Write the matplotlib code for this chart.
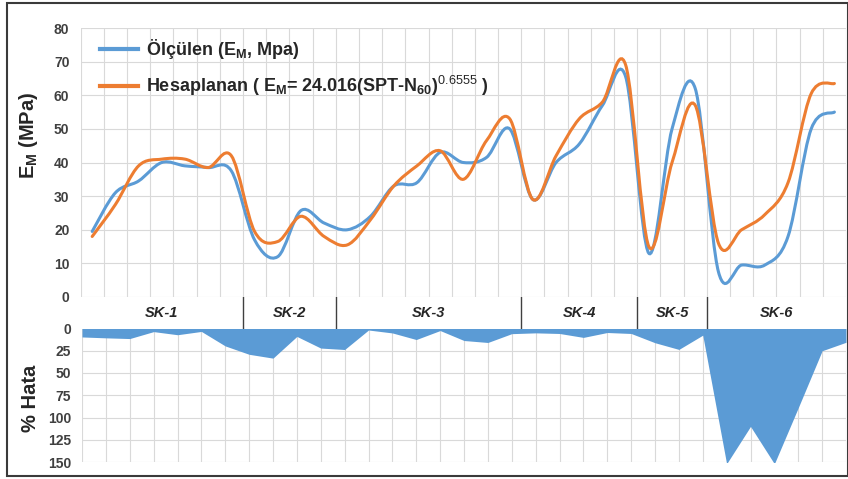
import matplotlib.pyplot as plt
import numpy as np
import matplotlib.patches as patches
from matplotlib.path import Path
from matplotlib.lines import Line2D

plt.rcParams['font.family'] = ['Liberation Sans', 'DejaVu Sans']
plt.rcParams['mathtext.fontset'] = 'custom'
plt.rcParams['mathtext.rm'] = 'Liberation Sans'
plt.rcParams['mathtext.bf'] = 'Liberation Sans:bold'

# Ölçülen ve hesaplanan EM değerleri (MPa)
olculen = [19.5, 31, 34.5, 40, 39, 38.5, 37.5, 17, 12, 25.7, 22, 20, 24, 33, 34, 43,
           40, 41.5, 50, 29, 40, 45.5, 57, 65.5, 13, 50, 62, 7.5, 9.5, 9.5, 18, 50, 55]
hesaplanan = [18, 27.5, 39, 41, 41, 38.5, 42, 19.5, 16.5, 24, 18, 15.5, 23, 33, 39, 43.5,
              35, 46.5, 53, 29, 42, 53, 58, 69, 15, 40, 57, 16, 20, 24.5, 34, 60.5, 63.5]

# % hata
hata = [9.5, 10.5, 11.3, 3.5, 7, 3.3, 19.6, 29, 33.3, 8.9, 22, 23.6, 1.7, 5, 12.4, 2.3,
        13.5, 15.7, 5.8, 4.9, 5.6, 10, 4.5, 5.6, 16, 23.5, 7.5, 152, 110, 152, 89, 25, 15.5]

# Sondaj grupları
gruplar = ['SK-1', 'SK-2', 'SK-3', 'SK-4', 'SK-5', 'SK-6']
grup_sayilari = [7, 4, 8, 5, 3, 6]

mavi = '#5B9BD5'
turuncu = '#ED7D31'
grid_renk = '#D9D9D9'
yazi_renk = '#404040'


def yumusak_egri(x, y):
    # Excel'deki "yumuşatılmış çizgi" gibi: Catmull-Rom -> Bezier
    pts = np.column_stack([x, y]).astype(float)
    n = len(pts)
    verts = [pts[0]]
    codes = [Path.MOVETO]
    for i in range(n - 1):
        p0 = pts[max(i - 1, 0)]
        p1 = pts[i]
        p2 = pts[i + 1]
        p3 = pts[min(i + 2, n - 1)]
        verts += [p1 + (p2 - p0) / 6, p2 - (p3 - p1) / 6, p2]
        codes += [Path.CURVE4] * 3
    return Path(verts, codes)


W, H = 848, 479
fig = plt.figure(figsize=(W / 100, H / 100), dpi=100)

# Üst grafik
ax = fig.add_axes([80.6 / W, 1 - 297 / H, (846 - 80.6) / W, (297 - 28) / H])
x = np.arange(len(olculen))
ax.set_xlim(-0.5, len(olculen) - 0.5)
ax.set_ylim(0, 80)
ax.set_yticks(np.arange(0, 81, 10))
ax.set_xticks(np.arange(-0.5, len(olculen), 1))
ax.set_xticklabels([])
ax.grid(True, color=grid_renk, lw=0.8)
ax.set_axisbelow(True)
for s in ax.spines.values():
    s.set_visible(False)
ax.tick_params(length=0, pad=8, labelsize=10, labelcolor=yazi_renk)
for t in ax.get_yticklabels():
    t.set_fontweight('bold')

ax.add_patch(patches.PathPatch(yumusak_egri(x, olculen), facecolor='none',
                               edgecolor=mavi, lw=2.2, capstyle='round'))
ax.add_patch(patches.PathPatch(yumusak_egri(x, hesaplanan), facecolor='none',
                               edgecolor=turuncu, lw=2.2, capstyle='round'))

ax.set_ylabel(r'E$_\mathbf{M}$ (MPa)', fontsize=14.5, fontweight='bold', color='#262626')
ax.yaxis.set_label_coords(-0.053, 0.60)

handles = [Line2D([], [], color=mavi, lw=3), Line2D([], [], color=turuncu, lw=3)]
labels = [r'Ölçülen (E$_\mathbf{M}$, Mpa)',
          r'Hesaplanan ( E$_\mathbf{M}$= 24.016(SPT-N$_\mathbf{60}$)$^{\mathrm{0.6555}}$ )']
leg = ax.legend(handles, labels, loc='upper left', bbox_to_anchor=(0.025, 0.965),
                frameon=False, borderpad=0, borderaxespad=0, handlelength=2.1,
                handletextpad=0.45, labelspacing=0.7,
                prop={'weight': 'bold', 'size': 13})
for t in leg.get_texts():
    t.set_color('#262626')

# Grup etiketleri satırı
axg = fig.add_axes([80.6 / W, 1 - 328.5 / H, (846 - 80.6) / W, (328.5 - 297) / H])
axg.set_xlim(-0.5, len(olculen) - 0.5)
axg.set_ylim(0, 1)
axg.axis('off')
baslangic = 0
for ad, n in zip(gruplar, grup_sayilari):
    axg.text(baslangic + (n - 1) / 2, 0.5, ad, ha='center', va='center',
             fontsize=10.5, fontweight='bold', fontstyle='italic', color='#262626')
    baslangic += n
    if baslangic < len(olculen):
        axg.plot([baslangic - 0.5] * 2, [0, 1], color='#404040', lw=1)

# Alt grafik (% hata)
ax2 = fig.add_axes([82 / W, 1 - 462 / H, (846 - 82) / W, (462 - 328.5) / H])
x2 = np.arange(len(hata))
ax2.fill_between(x2, 0, hata, color=mavi, lw=0)
ax2.set_xlim(0, len(hata) - 1)
ax2.set_ylim(150, 0)
ax2.set_yticks(np.arange(0, 151, 25))
ax2.set_xticks(x2)
ax2.set_xticklabels([])
ax2.grid(True, color=grid_renk, lw=0.8)
ax2.set_axisbelow(True)
for s in ax2.spines.values():
    s.set_visible(False)
ax2.tick_params(length=0, pad=8, labelsize=10, labelcolor=yazi_renk)
for t in ax2.get_yticklabels():
    t.set_fontweight('bold')
ax2.set_ylabel('% Hata', fontsize=14.5, fontweight='bold', color='#262626')
ax2.yaxis.set_label_coords(-0.055, 0.48)

# Dış çerçeve
fig.patches.append(patches.Rectangle((6.5 / W, 1 - 475.5 / H), (847.5 - 6.5) / W,
                                     (475.5 - 2.5) / H, transform=fig.transFigure,
                                     fill=False, edgecolor='#3A3A3A', lw=1.5))

fig.savefig('out.png', dpi=100)
